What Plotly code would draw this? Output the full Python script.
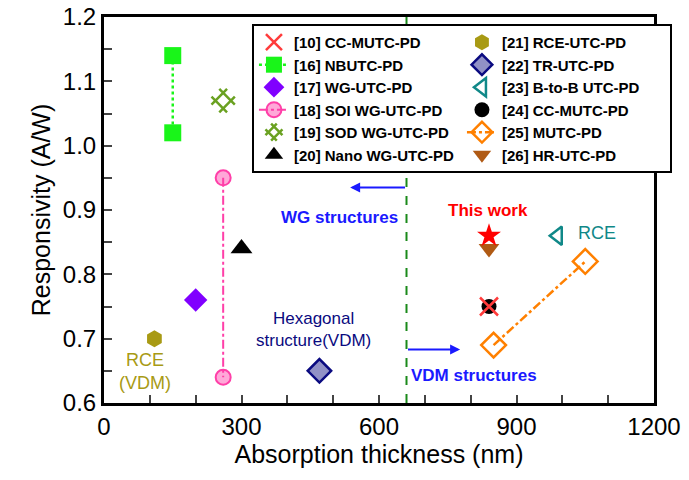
import plotly.graph_objects as go

# ---- data ----
ref10_x = [840]; ref10_y = [0.75]
ref16_x = [150, 150]; ref16_y = [1.14, 1.02]
ref17_x = [200]; ref17_y = [0.76]
ref18_x = [260, 260]; ref18_y = [0.95, 0.64]
ref19_x = [260]; ref19_y = [1.07]
ref20_x = [300]; ref20_y = [0.84]
ref21_x = [110]; ref21_y = [0.70]
ref22_x = [470]; ref22_y = [0.65]
ref23_x = [990]; ref23_y = [0.86]
ref24_x = [840]; ref24_y = [0.75]
ref25_x = [850, 1050]; ref25_y = [0.69, 0.82]
ref26_x = [840]; ref26_y = [0.84]
this_x = [840]; this_y = [0.86]
divider_x = 660

FONT = "Liberation Sans, Arial, sans-serif"

fig = go.Figure()

def add(name, x, y, symbol, color, size, rank, mode="markers", line=None, lw=0, fill=None, angle=0):
    marker = dict(symbol=symbol, size=size, color=fill if fill else color, angle=angle,
                  line=dict(color=color, width=lw))
    fig.add_trace(go.Scatter(x=x, y=y, mode=mode, name=name, marker=marker,
                             line=line, legendrank=rank))

add("[24] CC-MUTC-PD", ref24_x, ref24_y, "circle", "black", 15, 8)
add("[10] CC-MUTC-PD", ref10_x, ref10_y, "x-thin-open", "#ff3b3b", 18, 1, lw=2.5)
add("[16] NBUTC-PD", ref16_x, ref16_y, "square", "#19f519", 17, 3, mode="lines+markers",
    line=dict(color="#19f519", dash="dot", width=2.5))
add("[17] WG-UTC-PD", ref17_x, ref17_y, "diamond", "#8000ff", 18, 5)
add("[18] SOI WG-UTC-PD", ref18_x, ref18_y, "circle", "#ff3fa8", 15, 7, mode="lines+markers",
    line=dict(color="#ff3fa8", dash="dashdot", width=2), lw=2, fill="rgba(255,63,168,0.45)")
add("[19] SOD WG-UTC-PD", ref19_x, ref19_y, "hash-open", "#6aa121", 22, 9, lw=2.5, angle=45)
add("[20] Nano WG-UTC-PD", ref20_x, ref20_y, "triangle-up", "black", 19, 11)
add("[21] RCE-UTC-PD", ref21_x, ref21_y, "hexagon", "#a89a14", 17, 2)
add("[22] TR-UTC-PD", ref22_x, ref22_y, "diamond", "#0a0a80", 18, 4, lw=2.5, fill="rgba(10,10,128,0.45)")
add("[23] B-to-B UTC-PD", ref23_x, ref23_y, "triangle-left-open", "#108888", 16, 6, lw=2.5)
add("[25] MUTC-PD", ref25_x, ref25_y, "diamond-open", "#ff8000", 19, 10, mode="lines+markers",
    line=dict(color="#ff8000", dash="dashdot", width=2.5), lw=2.5)
add("[26] HR-UTC-PD", ref26_x, ref26_y, "triangle-down", "#b05a14", 18, 12)

fig.add_trace(go.Scatter(x=this_x, y=this_y, mode="markers", showlegend=False,
                         marker=dict(symbol="star", size=18, color="#ff0000")))

# divider
fig.add_shape(type="line", x0=divider_x, x1=divider_x, y0=0.6, y1=1.2, xref="x", yref="y",
              line=dict(color="#1a8a1a", width=2, dash="dash"), layer="below")

# arrows
fig.add_annotation(x=537, y=0.935, ax=divider_x, ay=0.935, axref="x", ayref="y",
                   xref="x", yref="y", text="", showarrow=True, arrowhead=2,
                   arrowsize=1, arrowwidth=2, arrowcolor="#1a1aff")
fig.add_annotation(x=777, y=0.683, ax=divider_x, ay=0.683, axref="x", ayref="y",
                   xref="x", yref="y", text="", showarrow=True, arrowhead=2,
                   arrowsize=1, arrowwidth=2, arrowcolor="#1a1aff")

def txt(x, y, s, color, size, bold=False, xanchor="center"):
    fig.add_annotation(x=x, y=y, xref="x", yref="y", text=f"<b>{s}</b>" if bold else s,
                       showarrow=False, xanchor=xanchor, yanchor="middle",
                       font=dict(family=FONT, size=size, color=color))

txt(645, 0.889, "WG structures", "#1a1aff", 17, bold=True, xanchor="right")
txt(666, 0.643, "VDM structures", "#1a1aff", 17, bold=True, xanchor="left")
txt(838, 0.899, "This work", "#ff0000", 17, bold=True)
txt(1030, 0.864, "RCE", "#108888", 18, xanchor="left")
txt(456, 0.714, "Hexagonal<br>structure(VDM)", "#0a0a80", 17)
txt(90, 0.649, "RCE<br>(VDM)", "#a89a14", 18)

fig.update_layout(
    width=689, height=480,
    margin=dict(l=104, r=35, t=17, b=77, autoexpand=False),
    paper_bgcolor="white", plot_bgcolor="white",
    font=dict(family=FONT, color="black"),
    legend=dict(orientation="h", x=0.269, y=0.982, xanchor="left", yanchor="top",
                entrywidth=163, bgcolor="white", bordercolor="black", borderwidth=2,
                font=dict(family=FONT, size=15, color="black", weight="bold"),
                tracegroupgap=0, itemwidth=30),
    xaxis=dict(range=[0, 1200], tickvals=[0, 300, 600, 900, 1200], ticks="inside",
               ticklen=8, tickwidth=2, showgrid=False, zeroline=False,
               showline=True, linewidth=3, linecolor="black", mirror=True,
               minor=dict(dtick=100, ticks="inside", ticklen=8, tickwidth=2, showgrid=False),
               tickfont=dict(size=24), title=dict(text="Absorption thickness (nm)",
                                                  font=dict(size=25), standoff=2)),
    yaxis=dict(range=[0.6, 1.2], tickvals=[0.6, 0.7, 0.8, 0.9, 1.0, 1.1, 1.2],
               tickformat=".1f", ticks="inside",
               ticklen=8, tickwidth=2, showgrid=False, zeroline=False,
               showline=True, linewidth=3, linecolor="black", mirror=True,
               minor=dict(dtick=0.05, ticks="inside", ticklen=8, tickwidth=2, showgrid=False),
               tickfont=dict(size=24), title=dict(text="Responsivity (A/W)",
                                                  font=dict(size=25), standoff=6)),
)

fig.write_html("out.html", config={"displayModeBar": False},
               post_script="document.body.style.margin='0';")
